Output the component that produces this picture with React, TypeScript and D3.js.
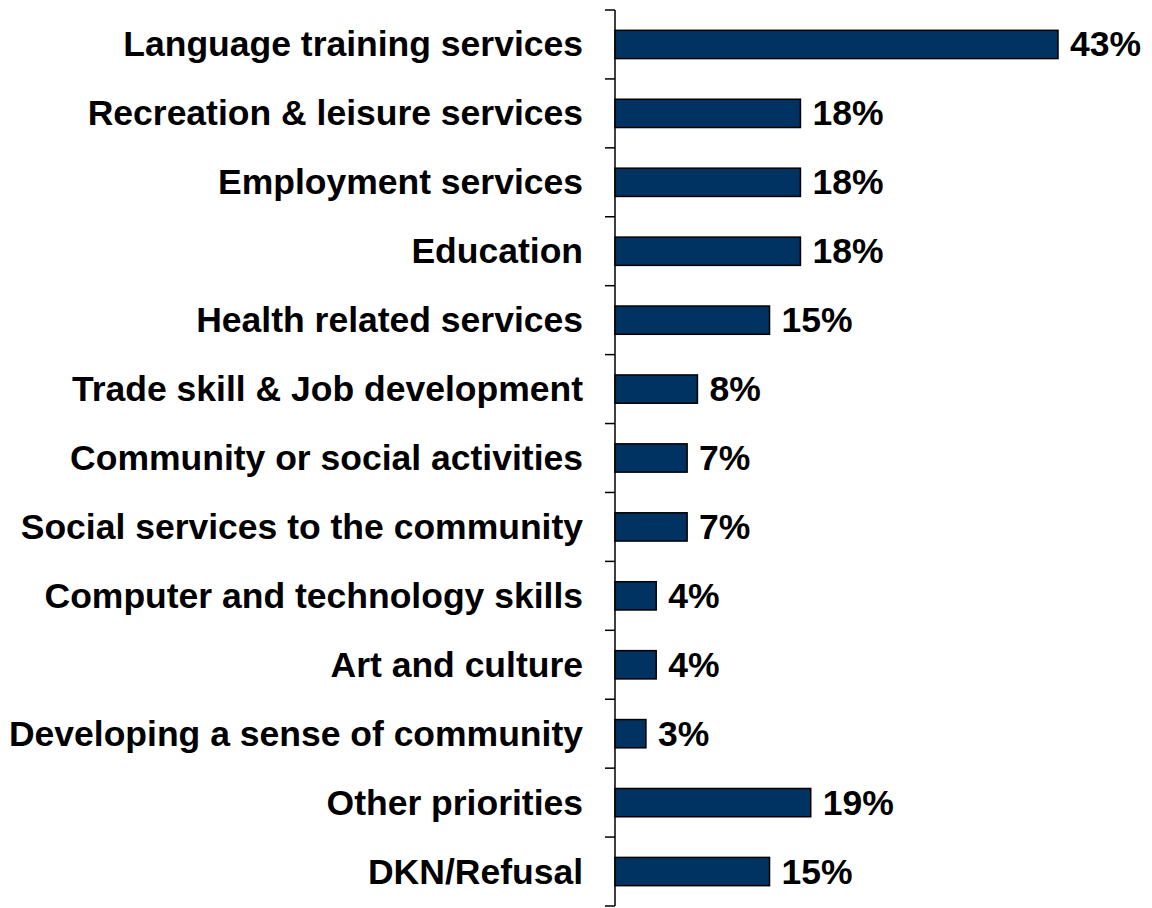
import React from "react";
import * as d3 from "d3";

const categories = [
  "Language training services",
  "Recreation & leisure services",
  "Employment services",
  "Education",
  "Health related services",
  "Trade skill & Job development",
  "Community or social activities",
  "Social services to the community",
  "Computer and technology skills",
  "Art and culture",
  "Developing a sense of community",
  "Other priorities",
  "DKN/Refusal",
];
const values = [43, 18, 18, 18, 15, 8, 7, 7, 4, 4, 3, 19, 15];
const valueLabels = ["43%", "18%", "18%", "18%", "15%", "8%", "7%", "7%", "4%", "4%", "3%", "19%", "15%"];

const W = 1152;
const H = 908;
const axisX = 615;
const top = 10;
const bottom = 906;

export default function App() {
  const y = d3.scaleBand<string>().domain(categories).range([top, bottom]).paddingInner(0.59).paddingOuter(0.295);
  const x = d3.scaleLinear().domain([0, 43]).range([axisX, 1058]);
  const band = (bottom - top) / categories.length;
  const font = "'Liberation Sans', Arial, sans-serif";
  const fs = 35.5;
  return (
    <svg width={W} height={H} style={{ position: "absolute", left: 0, top: 0 }}>
      <rect width={W} height={H} fill="#fff" />
      {categories.map((c, i) => {
        const yy = y(c)!;
        const cy = yy + y.bandwidth() / 2;
        return (
          <g key={c}>
            <rect x={x(0)} y={yy} width={x(values[i]) - x(0)} height={y.bandwidth()} fill="#003262" stroke="#000" strokeWidth={1.5} />
            <text x={axisX - 32} y={cy + 12} textAnchor="end" fontFamily={font} fontWeight="bold" fontSize={fs} fill="#000">{c}</text>
            <text x={x(values[i]) + 12} y={cy + 12} textAnchor="start" fontFamily={font} fontWeight="bold" fontSize={fs} fill="#000">{valueLabels[i]}</text>
          </g>
        );
      })}
      <line x1={axisX} x2={axisX} y1={top} y2={bottom} stroke="#000" strokeWidth={1.5} />
      {d3.range(categories.length + 1).map((i) => (
        <line key={i} x1={axisX - 10} x2={axisX} y1={top + i * band} y2={top + i * band} stroke="#000" strokeWidth={1.5} />
      ))}
    </svg>
  );
}
